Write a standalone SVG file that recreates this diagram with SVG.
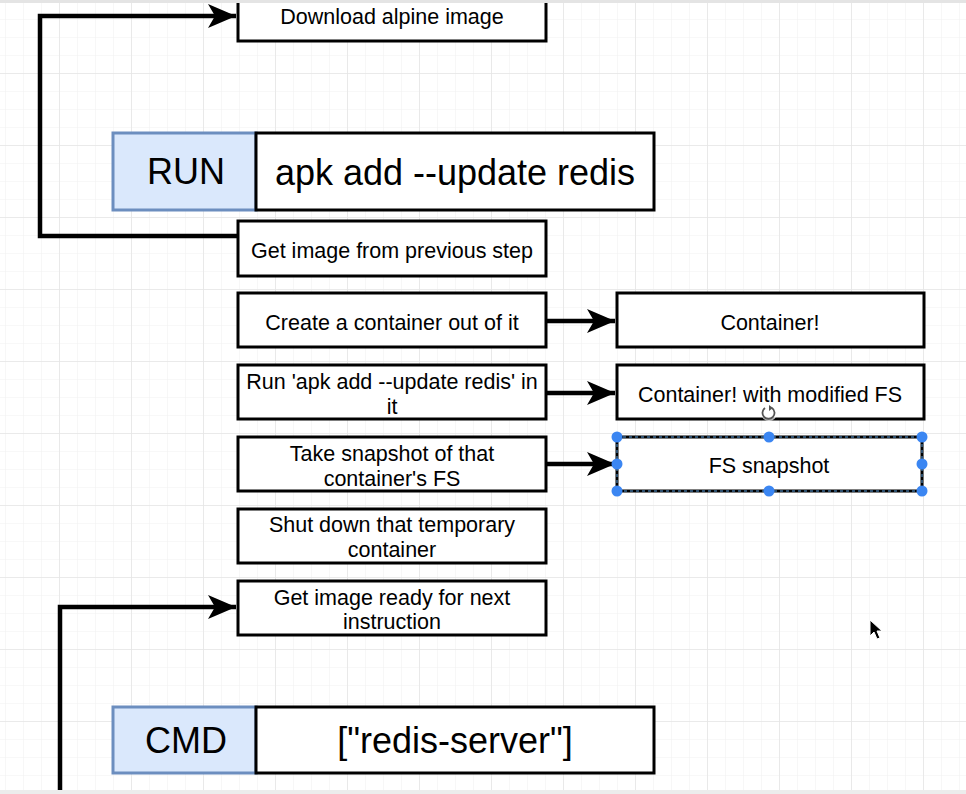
<svg xmlns="http://www.w3.org/2000/svg" width="966" height="794" viewBox="0 0 966 794">
<style>
.box{fill:#ffffff;stroke:#000000;stroke-width:3}
.blue{fill:#dae8fc;stroke:#6c8ebf;stroke-width:3}
.t{font-family:"Liberation Sans",Arial,sans-serif;font-size:21.5px;fill:#000000;text-anchor:middle}
.big{font-family:"Liberation Sans",Arial,sans-serif;font-size:36px;fill:#000000;text-anchor:middle}
.conn{fill:none;stroke:#000000;stroke-width:4.5;stroke-linejoin:miter}
.handle{fill:#3b86f2}
</style>
<defs>
<pattern id="minor" x="5" y="1" width="18" height="18" patternUnits="userSpaceOnUse">
<path d="M0,0 H18 M0,0 V18" fill="none" stroke="#f2f2f2" stroke-width="1.2"/>
</pattern>
<pattern id="major" x="59" y="1" width="72" height="72" patternUnits="userSpaceOnUse">
<path d="M0,0 H72 M0,0 V72" fill="none" stroke="#e6e6e6" stroke-width="1.6"/>
</pattern>
<marker id="arr" markerUnits="userSpaceOnUse" markerWidth="30" markerHeight="26" refX="28" refY="12" orient="auto" viewBox="0 0 30 26">
<path d="M0,0 L28,12 L0,24 L7,12 Z" fill="#000000"/>
</marker>
</defs>
<rect x="0" y="0" width="966" height="794" fill="#ffffff"/>
<rect x="0" y="0" width="966" height="794" fill="url(#minor)"/>
<rect x="0" y="0" width="966" height="794" fill="url(#major)"/>

<g id="connectors">
<path class="conn" d="M238,236 L40,236 L40,16 L236,16" marker-end="url(#arr)"/>
<path class="conn" d="M60,794 L60,607 L236,607" marker-end="url(#arr)"/>
<path class="conn" d="M546,321 L615,321" marker-end="url(#arr)"/>
<path class="conn" d="M546,393 L615,393" marker-end="url(#arr)"/>
<path class="conn" d="M546,464 L615,464" marker-end="url(#arr)"/>
</g>

<g id="download">
<rect class="box" x="238" y="-4" width="308" height="45"/>
<text class="t" x="392" y="24">Download alpine image</text>
</g>
<g id="run-label">
<rect class="blue" x="113" y="133" width="143" height="77"/>
<text class="big" x="186" y="184">RUN</text>
</g>
<g id="run-cmd">
<rect class="box" x="256" y="133" width="398" height="77"/>
<text class="big" x="455" y="185">apk add --update redis</text>
</g>
<g id="get-image">
<rect class="box" x="238" y="221" width="308" height="55"/>
<text class="t" x="392" y="258">Get image from previous step</text>
</g>
<g id="create-container">
<rect class="box" x="238" y="293" width="308" height="54"/>
<text class="t" x="392" y="330">Create a container out of it</text>
</g>
<g id="container">
<rect class="box" x="617" y="293" width="307" height="54"/>
<text class="t" x="770" y="330">Container!</text>
</g>
<g id="run-apk">
<rect class="box" x="238" y="365" width="308" height="54"/>
<text class="t" x="392" y="389">Run 'apk add --update redis' in</text>
<text class="t" x="392" y="414">it</text>
</g>
<g id="container-modified">
<rect class="box" x="617" y="365" width="307" height="54"/>
<text class="t" x="770" y="402">Container! with modified FS</text>
</g>
<g id="take-snapshot">
<rect class="box" x="238" y="437" width="308" height="54"/>
<text class="t" x="392" y="461">Take snapshot of that</text>
<text class="t" x="392" y="486">container's FS</text>
</g>
<g id="fs-snapshot">
<rect class="box" x="617" y="437" width="305" height="54"/>
<rect x="617" y="437" width="305" height="54" fill="none" stroke="#5aa0e0" stroke-width="1" stroke-dasharray="3 3"/>
<text class="t" x="769" y="473">FS snapshot</text>
<circle class="handle" cx="617" cy="437" r="5.5"/>
<circle class="handle" cx="769" cy="437" r="5.5"/>
<circle class="handle" cx="922" cy="437" r="5.5"/>
<circle class="handle" cx="617" cy="464" r="5.5"/>
<circle class="handle" cx="922" cy="464" r="5.5"/>
<circle class="handle" cx="617" cy="491" r="5.5"/>
<circle class="handle" cx="769" cy="491" r="5.5"/>
<circle class="handle" cx="922" cy="491" r="5.5"/>
</g>
<g id="rotate-handle">
<circle cx="769" cy="413" r="8" fill="#ffffff" fill-opacity="0.7"/>
<path d="M765,408 A6,6 0 1 0 772,408" fill="none" stroke="#555555" stroke-width="1.8"/>
<path d="M769,405 L773,408 L769,411 Z" fill="#555555"/>
</g>
<g id="shut-down">
<rect class="box" x="238" y="509" width="308" height="54"/>
<text class="t" x="392" y="532">Shut down that temporary</text>
<text class="t" x="392" y="557">container</text>
</g>
<g id="get-ready">
<rect class="box" x="238" y="581" width="308" height="54"/>
<text class="t" x="392" y="605">Get image ready for next</text>
<text class="t" x="392" y="629">instruction</text>
</g>
<g id="cmd-label">
<rect class="blue" x="113" y="707" width="143" height="66"/>
<text class="big" x="186" y="753">CMD</text>
</g>
<g id="cmd-value">
<rect class="box" x="256" y="707" width="398" height="66"/>
<text class="big" x="455" y="753">["redis-server"]</text>
</g>

<g id="cursor">
<path d="M870,620 L870,636 L874,632 L877,639 L880,638 L877,631 L882,631 Z" fill="#000000" stroke="#ffffff" stroke-width="1"/>
</g>
<rect x="0" y="0" width="966" height="3" fill="#e4e4e4"/>
<rect x="0" y="790" width="966" height="4" fill="#ececec"/>
</svg>
